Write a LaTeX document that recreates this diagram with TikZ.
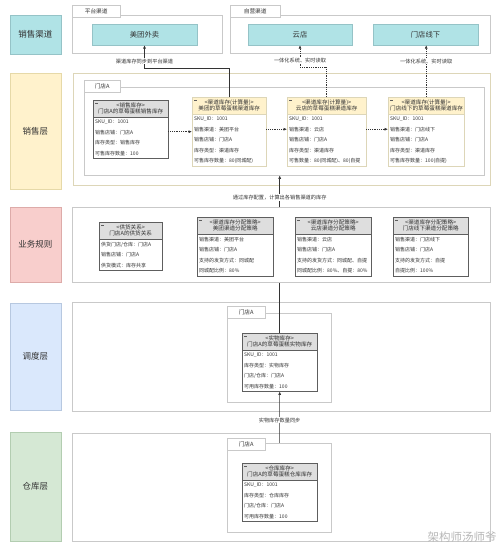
\documentclass[tikz,border=0pt]{standalone}
\usepackage{fontspec}
\setmainfont{Noto Sans CJK SC}
\usetikzlibrary{arrows.meta}
\definecolor{txtgray}{HTML}{333333}
\definecolor{linegray}{HTML}{C9C9C9}
\definecolor{clsdark}{HTML}{5E5E5E}
\definecolor{clslight}{HTML}{DDD6B8}
\tikzset{
  layerbox/.style={draw, text=txtgray, minimum width=51pt, inner sep=0pt, font=\fontsize{8.5}{10}\selectfont},
  qdlayer/.style={fill=HTML-qd, draw=HTML-qdline},
  panelnode/.style={draw=linegray, fill=white, anchor=north west, inner sep=0pt},
  xspanel/.style={draw=clslight},
  tabnode/.style={draw=linegray, fill=white, anchor=west, minimum height=12pt, inner sep=0pt, text=txtgray, font=\fontsize{5.7}{6}\selectfont},
  chbox/.style={draw=HTML-qdline, fill=HTML-qd, minimum height=21pt, inner sep=0pt, text=txtgray, font=\fontsize{7.3}{8}\selectfont},
  classhead/.style={anchor=north west, align=center, inner xsep=2pt, inner ysep=1pt, minimum height=16.5pt, text=txtgray, font=\fontsize{5.6}{6.8}\selectfont},
  classbody/.style={anchor=north west, align=left, fill=white, inner xsep=2pt, inner ysep=2.75pt, text=txtgray, font=\fontsize{5}{10.5}\selectfont},
  grayhead/.style={draw=clsdark, fill=HTML-head},
  graybody/.style={draw=clsdark},
  yellowhead/.style={draw=clslight, fill=HTML-xs},
  yellowbody/.style={draw=clslight},
  iconline/.style={draw=clsdark, line width=0.4pt},
  solidarrow/.style={draw=txtgray, line width=0.6pt, -{Latex[length=3.5pt,width=3pt]}},
  dotarrow/.style={draw=txtgray, line width=0.6pt, dash pattern=on 0.8pt off 1pt, -{Latex[length=3.5pt,width=3pt]}},
  edgelabel/.style={fill=white, inner sep=0.8pt, text=txtgray, font=\fontsize{5.2}{6}\selectfont}
}
\definecolor{HTML-qd}{HTML}{B0E3E6}
\definecolor{HTML-qdline}{HTML}{95C3C7}
\definecolor{HTML-xs}{HTML}{FFF2CC}
\definecolor{HTML-xsline}{HTML}{E6D9A8}
\definecolor{HTML-gz}{HTML}{F8CECC}
\definecolor{HTML-gzline}{HTML}{DDABA9}
\definecolor{HTML-dd}{HTML}{DAE8FC}
\definecolor{HTML-ddline}{HTML}{B7C8E0}
\definecolor{HTML-ck}{HTML}{D5E8D4}
\definecolor{HTML-ckline}{HTML}{B3CDB1}
\definecolor{HTML-head}{HTML}{DEDEDE}
\newcommand{\layerlabel}[5] {\node at (#1) (#2) [layerbox, fill=HTML-#3, draw=HTML-#3line, minimum height=#4pt] {#5};}
\newcommand{\layerpanel}[5] {\node at (#1) (#2) [panelnode, #3, minimum width=#4pt, minimum height=#5pt] {};}
\newcommand{\paneltab}[4] {\node at (#1) (#2) [tabnode, minimum width=#3pt] {#4};}
\newcommand{\invclass}[6] {%
  \pgfmathsetmacro{\boxtw}{#3-4}
  \node at (#2) (#1) [classhead, #4head, text width=\boxtw pt] {#5};
  \draw [iconline] ([xshift=2pt,yshift=-3.5pt]#1.north west) -- ++(3,0);
  \node at (#1.south west) (#1-body) [classbody, #4body, text width=\boxtw pt] {#6};
}
\begin{document}
\begin{tikzpicture}[x=1pt, y=-1pt]
\useasboundingbox (0,0) rectangle (500,547);

\layerlabel {35.5,34.5} {lbQD} {qd} {39} {销售渠道};
\layerlabel {35.5,131} {lbXS} {xs} {116} {销售层};
\layerlabel {35.5,244.5} {lbGZ} {gz} {75} {业务规则};
\layerlabel {35.5,356.5} {lbDD} {dd} {107} {调度层};
\layerlabel {35.5,486.5} {lbCK} {ck} {109} {仓库层};

% 销售渠道
\layerpanel {72,15} {pnPT} {} {150} {38};
\paneltab {72,11} {tbPT} {48} {平台渠道};
\layerpanel {230,15} {pnZY} {} {260} {38};
\paneltab {230,11} {tbZY} {50} {自营渠道};
\node at (144.5,34.5) (mtwm) [chbox, minimum width=105pt] {美团外卖};
\node at (300,34.5) (yd) [chbox, minimum width=104pt] {云店};
\node at (425.5,34.5) (mdxx) [chbox, minimum width=105pt] {门店线下};

% 销售层
\layerpanel {73,73} {pnXS} {xspanel} {417} {112};
\layerpanel {84,87} {ctXS} {} {400} {88};
\paneltab {84,86.5} {tbXS} {36} {门店A};
\invclass {xskc} {93,100} {75} {gray} {<销售库存>\\门店A的草莓蛋糕销售库存} {SKU\_ID：1001\\销售店铺：门店A\\库存类型：销售库存\\可售库存数量：100};
\invclass {mtqd} {192,97} {74} {yellow} {<渠道库存(计算量)>\\美团的草莓蛋糕渠道库存} {SKU\_ID：1001\\销售渠道：美团平台\\销售店铺：门店A\\库存类型：渠道库存\\可售库存数量：80(同城配)};
\invclass {ydqd} {287,97} {79} {yellow} {<渠道库存(计算量)>\\云店的草莓蛋糕渠道库存} {SKU\_ID：1001\\销售渠道：云店\\销售店铺：门店A\\库存类型：渠道库存\\可售数量：80(同城配)、80(自提};
\invclass {mdqd} {388,97} {76} {yellow} {<渠道库存(计算量)>\\门店线下的草莓蛋糕渠道库存} {SKU\_ID：1001\\销售渠道：门店线下\\销售店铺：门店A\\库存类型：渠道库存\\可售库存数量：100(自提)};

\coordinate (a1) at ([yshift=6pt]xskc-body.east);
\coordinate (a2) at ([yshift=11pt]mtqd-body.east);
\coordinate (a3) at ([yshift=11pt]ydqd-body.east);
\draw [dotarrow] (a1) -- (a1 -| mtqd-body.west);
\draw [dotarrow] (a2) -- (a2 -| ydqd-body.west);
\draw [dotarrow] (a3) -- (a3 -| mdqd-body.west);

\draw [solidarrow] (mtqd.north) -- ++(0,-29) -| node [edgelabel, pos=0.65] {渠道库存同步到平台渠道} (mtwm.south);
\draw [dotarrow] (ydqd.north) -- ++(0,-30) -| node [edgelabel, pos=0.64] {一体化系统、实时读取} (yd.south);
\draw [dotarrow] (mdqd.north) -- node [edgelabel, pos=0.69] {一体化系统、实时读取} (mdqd.north |- mdxx.south);

% 调度层
\layerpanel {72,302} {pnDD} {} {418} {109};
\layerpanel {227,313} {ctDD} {} {104} {89};
\paneltab {227,312.5} {tbDD} {38} {门店A};
\invclass {swkc} {242,333} {75} {gray} {<实物库存>\\门店A的草莓蛋糕实物库存} {SKU\_ID：1001\\库存类型：实物库存\\门店/仓库：门店A\\可用库存数量：100};

% 仓库层
\layerpanel {72,433} {pnCK} {} {418} {108};
\coordinate (ckTop) at (279.5,463);
\draw [solidarrow] (ckTop) -- node [edgelabel, pos=0.6] {实物库存数量同步} (swkc-body.south);
\layerpanel {227,443} {ctCK} {} {104} {89};
\paneltab {227,444} {tbCK} {38} {门店A};
\invclass {ckkc} {242,463} {75} {gray} {<仓库库存>\\门店A的草莓蛋糕仓库库存} {SKU\_ID：1001\\库存类型：仓库库存\\门店/仓库：门店A\\可用库存数量：100};

\draw [solidarrow] (swkc.north) -- node [edgelabel, pos=0.86] {通过库存配置，计算出各销售渠道的库存} (swkc.north |- ctXS.south);

% 业务规则
\layerpanel {72,207} {pnGZ} {} {418} {75};
\invclass {gyrel} {99,222} {63} {gray} {<供货关系>\\门店A的供货关系} {供货门店/仓库：门店A\\销售店铺：门店A\\供货模式：库存共享};
\invclass {mtcl} {197,217} {76} {gray} {<渠道库存分配策略>\\美团渠道分配策略} {销售渠道：美团平台\\销售店铺：门店A\\支持的发货方式：同城配\\同城配比例：80\%};
\invclass {ydcl} {295,217} {76} {gray} {<渠道库存分配策略>\\云店渠道分配策略} {销售渠道：云店\\销售店铺：门店A\\支持的发货方式：同城配、自提\\同城配比例：80\%、自提：80\%};
\invclass {mdcl} {393,217} {75} {gray} {<渠道库存分配策略>\\门店线下渠道分配策略} {销售渠道：门店线下\\销售店铺：门店A\\支持的发货方式：自提\\自提比例：100\%};

\node at (462,537) (wmark) [text=black!28, font=\fontsize{11.5}{12}\selectfont] {架构师汤师爷};
\end{tikzpicture}
\end{document}
